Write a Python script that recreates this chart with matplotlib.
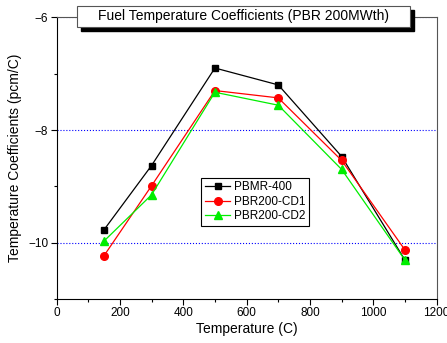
import matplotlib
matplotlib.use("Agg")
import matplotlib.pyplot as plt
from matplotlib.patches import Rectangle
from matplotlib.ticker import MultipleLocator

plt.rcParams['font.family'] = ['Liberation Sans', 'DejaVu Sans']

# data
temps = [150, 300, 500, 700, 900, 1100]
pbmr400 = [-9.77, -8.63, -6.90, -7.20, -8.47, -10.31]
cd1 = [-10.23, -8.99, -7.30, -7.43, -8.54, -10.13]
cd2 = [-9.97, -9.15, -7.33, -7.56, -8.70, -10.31]

fig = plt.figure(figsize=(4.47, 3.43), dpi=100)
ax = fig.add_axes([0.1264, 0.128, 0.8506, 0.8216])

ax.plot(temps, pbmr400, color='black', lw=0.9, marker='s', ms=5, label='PBMR-400')
ax.plot(temps, cd1, color='red', lw=0.9, marker='o', ms=5.5, label='PBR200-CD1')
ax.plot(temps, cd2, color='#00ee00', lw=0.9, marker='^', ms=6, label='PBR200-CD2')

ax.set_xlim(0, 1200)
ax.set_ylim(-11, -6)
ax.xaxis.set_major_locator(MultipleLocator(200))
ax.xaxis.set_minor_locator(MultipleLocator(100))
ax.yaxis.set_major_locator(MultipleLocator(2))
ax.yaxis.set_minor_locator(MultipleLocator(1))
ax.tick_params(which='major', direction='out', length=4, width=0.8, labelsize=8.5, pad=2)
ax.tick_params(which='minor', direction='out', length=2, width=0.8)
ax.grid(axis='y', which='major', color='blue', linestyle=':', linewidth=0.8)

for s in ['top', 'right']:
    ax.spines[s].set_color('#555555')
    ax.spines[s].set_linewidth(0.8)

ax.set_xlabel('Temperature (C)', fontsize=10, labelpad=2)
ax.set_ylabel('Temperature Coefficients (pcm/C)', fontsize=10, labelpad=4)

leg = ax.legend(loc='upper left', bbox_to_anchor=(0.38, 0.43), borderaxespad=0,
                fontsize=8.5, frameon=True, fancybox=False, edgecolor='black',
                framealpha=1, handlelength=2.2, borderpad=0.3, labelspacing=0.2,
                handletextpad=0.3)
leg.get_frame().set_linewidth(0.8)

# title box with shadow
W, H = 447.0, 343.0
x0, x1, y0, y1 = 77, 410, 5.7, 27
fig.add_artist(Rectangle(((x0 + 4) / W, 1 - (y1 + 4) / H), (x1 - x0) / W, (y1 - y0) / H,
                         transform=fig.transFigure, facecolor='black', edgecolor='black', zorder=5))
fig.add_artist(Rectangle((x0 / W, 1 - y1 / H), (x1 - x0) / W, (y1 - y0) / H,
                         transform=fig.transFigure, facecolor='white', edgecolor='#555555',
                         lw=0.8, zorder=6))
fig.text((x0 + x1) / 2 / W, 1 - (y0 + y1) / 2 / H, 'Fuel Temperature Coefficients (PBR 200MWth)',
         ha='center', va='center', fontsize=10, zorder=7)

fig.savefig('out.png', dpi=100)
